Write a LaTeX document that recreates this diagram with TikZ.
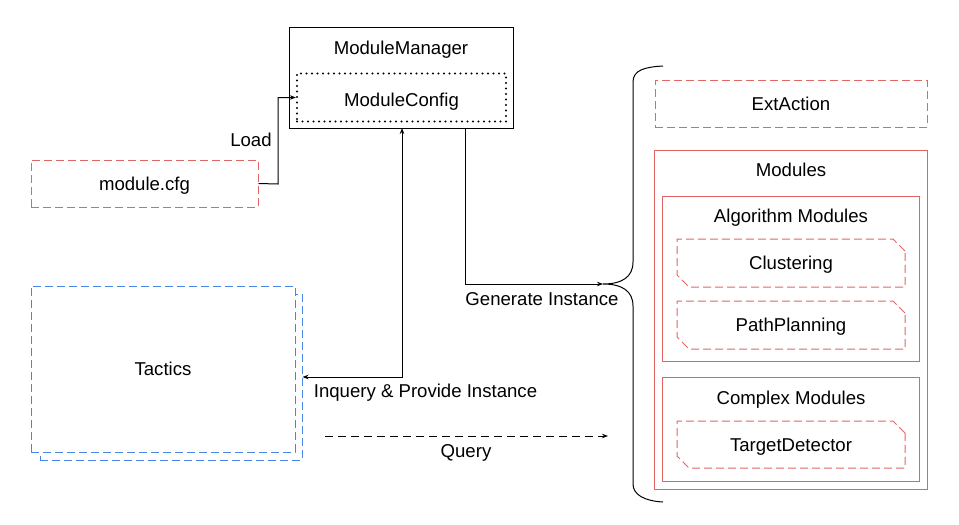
\documentclass[tikz,border=0pt]{standalone}
\usepackage{fontspec}
\setmainfont{Liberation Sans}
\usetikzlibrary{arrows.meta,shapes.misc}
\definecolor{redl}{HTML}{E06666}
\definecolor{bluel}{HTML}{4A86E8}
\definecolor{greyl}{HTML}{999999}
\begin{document}
\begin{tikzpicture}[x=1pt,y=-1pt,font=\fontsize{18.6}{21}\selectfont,
  every node/.style={text height=13.3pt,text depth=0pt},
  box/.style={rectangle,inner sep=0pt,line width=1pt},
  reddash/.style={box,draw=redl,dash pattern=on 8pt off 4pt},
  redsolid/.style={box,draw=redl},
  bluedash/.style={box,draw=bluel,fill=white,dash pattern=on 8pt off 4pt},
  snip/.style={chamfered rectangle,chamfered rectangle corners={north east,south west},chamfered rectangle xsep=6pt,chamfered rectangle ysep=6pt,inner sep=0pt,draw=redl,line width=1pt,dash pattern=on 8pt off 4pt},
  conn/.style={line width=1pt,-{Stealth[length=6pt,width=4.5pt]}},
  lbl/.style={inner sep=0pt}]
\useasboundingbox (0,0) rectangle (959,525);
% ModuleManager
\node[box,draw=black,minimum width=224pt,minimum height=101pt] (mm) at (401,77.5) {};
\node[lbl] (mmt) at (401,48) {ModuleManager};
\node[box,draw=black,line width=2.2pt,line cap=round,dash pattern=on 0pt off 5.5pt,minimum width=209pt,minimum height=48pt] (mc) at (401.5,97.5) {};
\node[lbl] (mct) at (401.5,100) {ModuleConfig};
% module.cfg
\node[reddash,minimum width=227pt,minimum height=47pt] (cfg) at (144.5,183.5) {module.cfg};
% Tactics
\node[bluedash,minimum width=262pt,minimum height=166pt] (tb) at (171,377) {};
\node[bluedash,minimum width=264pt,minimum height=166pt] (tf) at (163,369) {Tactics};
% Right side
\node[reddash,minimum width=272pt,minimum height=47pt] (ext) at (791,103.5) {ExtAction};
\node[box,draw=greyl,minimum width=273pt,minimum height=339pt] (modg) at (791,320) {};
\node[redsolid,minimum width=273pt,minimum height=339pt] (mod) at (790.5,319.5) {};
\node[lbl] (modt) at (791,170) {Modules};
\node[redsolid,minimum width=257pt,minimum height=165pt] (algo) at (790.5,278.5) {};
\node[lbl] (algot) at (791,216) {Algorithm Modules};
\node[snip,minimum width=228pt,minimum height=48pt] (clu) at (791,263) {Clustering};
\node[snip,minimum width=228pt,minimum height=48pt] (pp) at (791,325) {PathPlanning};
\node[redsolid,minimum width=257pt,minimum height=104pt] (cplx) at (790.5,429) {};
\node[lbl] (cplxt) at (791,398) {Complex Modules};
\node[snip,minimum width=228pt,minimum height=47pt] (td) at (791,444.5) {TargetDetector};
% Brace
\coordinate (tip) at (603,284);
\draw[line width=1pt] (663,66) .. controls (645,67) and (633,70) .. (633,82) -- (633,262)
  .. controls (633,277) and (622,284) .. (tip)
  .. controls (622,284) and (633,291) .. (633,306) -- (633,484)
  .. controls (633,495) and (645,501) .. (663,502);
% Load
\draw[conn] (cfg.east) -- (278,184) |- (mc.west);
\node[lbl] (load) at (251,140) {Load};
% Inquery & Provide Instance
\draw[line width=1pt,{Stealth[length=6pt,width=4.5pt]}-{Stealth[length=6pt,width=4.5pt]}] (402,128) |- (tb.east);
\node[lbl] (inq) at (425.5,391) {Inquery \& Provide Instance};
% Generate Instance
\draw[conn] (465,128) |- (tip);
\node[lbl] (gen) at (542,299) {Generate Instance};
% Query
\coordinate (q1) at (325,436);
\coordinate (q2) at (608,436);
\draw[conn,dash pattern=on 8pt off 5pt] (q1) -- (q2);
\node[lbl] (qry) at (466,451) {Query};
\end{tikzpicture}
\end{document}
